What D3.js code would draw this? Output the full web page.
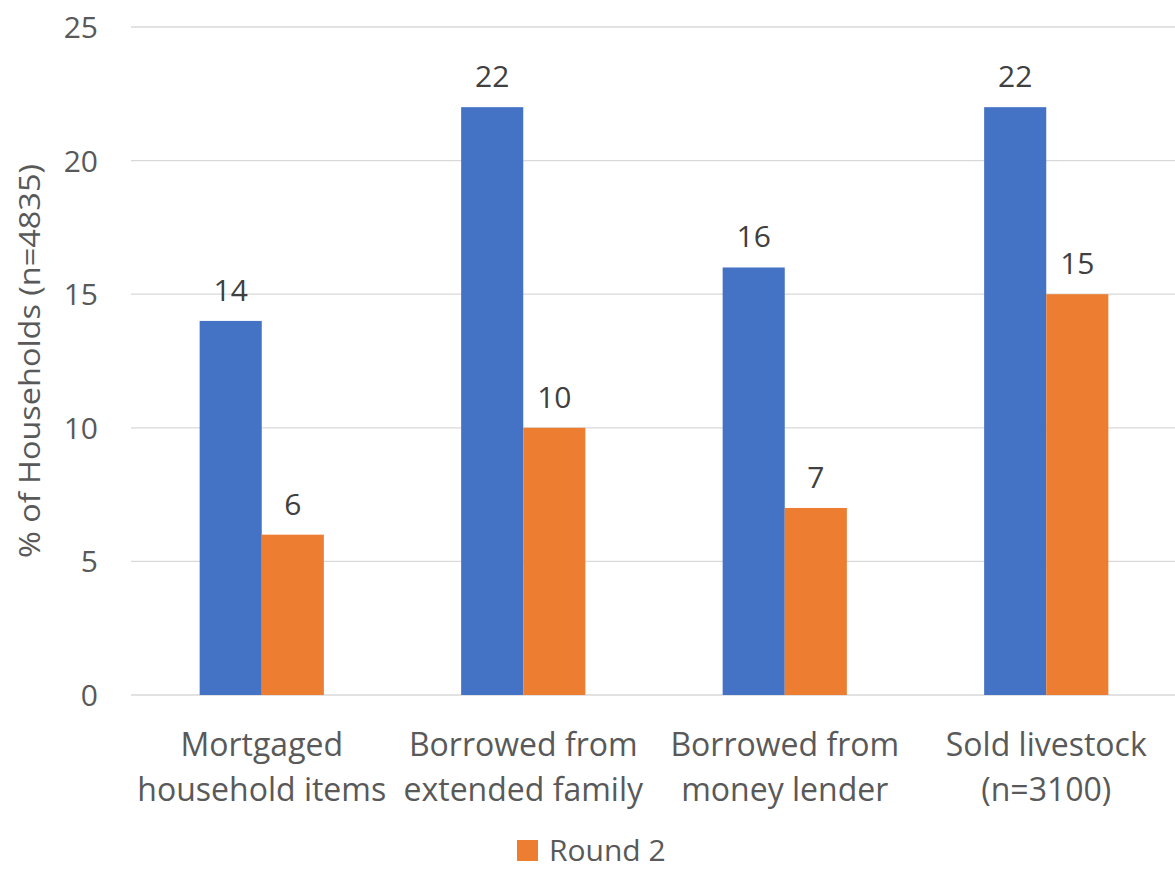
<!DOCTYPE html>
<html>
<head>
<meta charset="utf-8">
<script src="https://cdn.jsdelivr.net/npm/d3@7"></script>
<style>
  html, body { margin: 0; padding: 0; background: #fff; }
  svg { display: block; font-family: "Open Sans", Lato, sans-serif; }
</style>
</head>
<body>
<svg id="chart" width="1175" height="870"></svg>
<script>
// Coping strategies by round
const categories = [
  ["Mortgaged", "household items"],
  ["Borrowed from", "extended family"],
  ["Borrowed from", "money lender"],
  ["Sold livestock", "(n=3100)"]
];
const round1 = [14, 22, 16, 22];
const round2 = [6, 10, 7, 15];
const seriesNames = ["Round 1", "Round 2"];
const seriesColors = ["#4472C4", "#ED7D31"];
const yTicks = [0, 5, 10, 15, 20, 25];
const yLabel = "% of Households (n=4835)";
const legendShown = ["Round 2"];

const svg = d3.select("#chart");
const margin = { left: 131, right: -2, top: 27, bottom: 175 };
const W = 1175, H = 870;
const FS = 30;

const x0 = d3.scaleBand()
  .domain(d3.range(categories.length))
  .range([margin.left, W - margin.right])
  .paddingInner(0.525)
  .paddingOuter(0.2625);
const x1 = d3.scaleBand()
  .domain(seriesNames)
  .range([0, x0.bandwidth()]);
const y = d3.scaleLinear().domain([0, 25]).range([H - margin.bottom, margin.top]);

// gridlines
svg.append("g")
  .selectAll("line")
  .data(yTicks)
  .join("line")
  .attr("x1", margin.left).attr("x2", W)
  .attr("y1", d => y(d)).attr("y2", d => y(d))
  .attr("stroke", "#d9d9d9").attr("stroke-width", 1.3);

// y axis tick labels
const yAxis = d3.axisLeft(y).tickValues(yTicks).tickSize(0).tickPadding(0);
const yg = svg.append("g").attr("transform", `translate(${margin.left - 33},0)`).call(yAxis);
yg.select(".domain").remove();
yg.selectAll("text")
  .attr("fill", "#595959")
  .attr("font-size", FS)
  .attr("font-family", "'Open Sans', sans-serif")
  .attr("dy", "0.35em");

// y axis title
svg.append("text")
  .attr("transform", `translate(40,${y(12.5)}) rotate(-90)`)
  .attr("text-anchor", "middle")
  .attr("fill", "#595959")
  .attr("font-size", 29)
  .attr("textLength", 394)
  .attr("lengthAdjust", "spacingAndGlyphs")
  .text(yLabel);

// bars
const data = categories.map((c, i) => ({ i, values: [round1[i], round2[i]] }));
const groups = svg.append("g").selectAll("g")
  .data(data)
  .join("g")
  .attr("transform", d => `translate(${x0(d.i)},0)`);

groups.selectAll("rect")
  .data(d => d.values.map((v, k) => ({ k, v })))
  .join("rect")
  .attr("x", d => x1(seriesNames[d.k]))
  .attr("width", x1.bandwidth())
  .attr("y", d => y(d.v))
  .attr("height", d => y(0) - y(d.v))
  .attr("fill", d => seriesColors[d.k]);

// value labels
groups.selectAll("text.val")
  .data(d => d.values.map((v, k) => ({ k, v })))
  .join("text")
  .attr("class", "val")
  .attr("x", d => x1(seriesNames[d.k]) + x1.bandwidth() / 2)
  .attr("y", d => y(d.v) - 20)
  .attr("text-anchor", "middle")
  .attr("fill", "#404040")
  .attr("font-size", FS)
  .text(d => d.v);

// category labels
const cat = svg.append("g").selectAll("text")
  .data(categories)
  .join("text")
  .attr("text-anchor", "middle")
  .attr("fill", "#595959")
  .attr("font-size", 32)
  .attr("transform", (d, i) => `translate(${x0(i) + x0.bandwidth() / 2},0)`);
cat.selectAll("tspan")
  .data(d => d)
  .join("tspan")
  .attr("x", 0)
  .attr("y", (d, j) => 756 + j * 45)
  .text(d => d);

// legend
const lg = svg.append("g").attr("transform", "translate(517,840)");
legendShown.forEach(name => {
  const k = seriesNames.indexOf(name);
  lg.append("rect").attr("width", 21).attr("height", 21).attr("fill", seriesColors[k]);
  lg.append("text").attr("x", 32).attr("y", 21)
    .attr("fill", "#595959").attr("font-size", FS).text(name);
});
</script>
</body>
</html>
